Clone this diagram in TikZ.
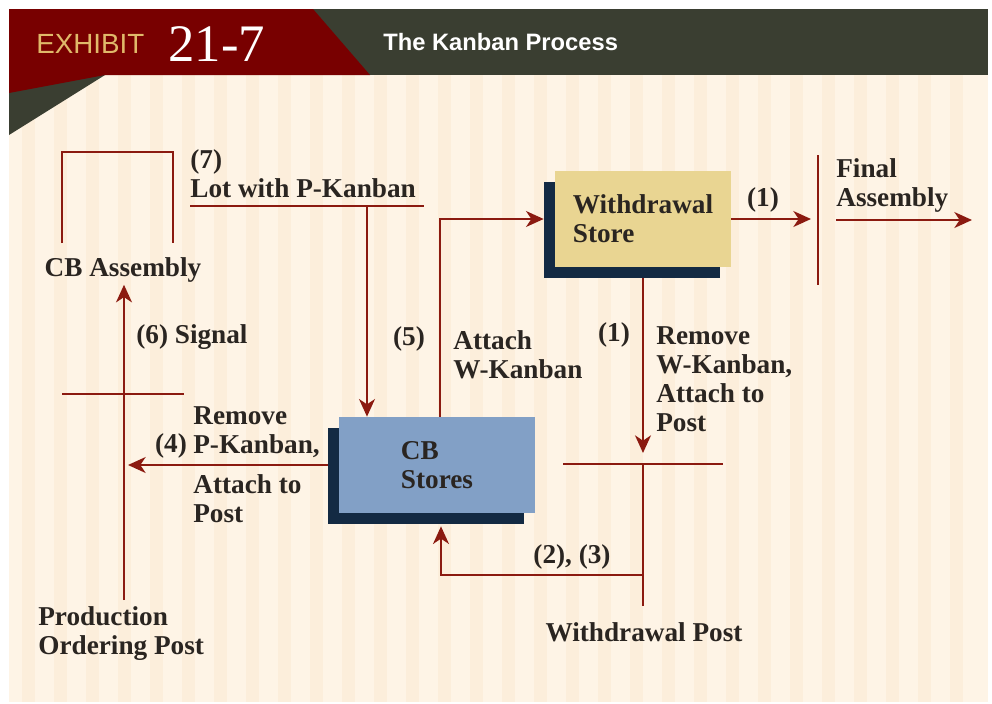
\documentclass[tikz,border=0pt]{standalone}
\usepackage{fontspec}
\setmainfont{Liberation Serif}
\newfontfamily\hdfont{Liberation Sans}
\usetikzlibrary{positioning, arrows.meta, shadows}
\definecolor{kred}{HTML}{8B1A10}
\definecolor{hred}{HTML}{780000}
\definecolor{hdark}{HTML}{3A3E31}
\definecolor{gold}{HTML}{E0B96A}
\definecolor{cream}{HTML}{FEF4E6}
\definecolor{stripe}{HTML}{FCEEDB}
\definecolor{ink}{HTML}{2A2521}
\definecolor{navy}{HTML}{132A43}
\definecolor{wsfill}{HTML}{E9D592}
\definecolor{cbfill}{HTML}{82A0C6}
\newcommand{\kfont}{\fontsize{15.5}{16.5}\selectfont\bfseries}

\begin{document}
\begin{tikzpicture}[x=0.02cm, y=-0.02cm,
  flow/.style={kred, line width=1.6pt},
  arr/.style={flow, -{Stealth[length=10pt,width=9pt,inset=3pt]}},
  lbl/.style={text=ink, font=\kfont, align=left, inner sep=0pt},
  store/.style={text=ink, font=\kfont, align=left, inner sep=0pt,
    minimum height=1.92cm,
    general shadow={fill=navy, shadow xshift=-0.22cm, shadow yshift=-0.22cm}}]
\useasboundingbox (0,0) rectangle (992,704);
\fill[white] (0,0) rectangle (992,704);
% background with stripes
\fill[cream] (9,9) rectangle (988,702);
\foreach \x in {22,54,...,980} \fill[stripe] (\x,75) rectangle ++(13,627);
% header band
\fill[hdark] (9,9) rectangle (988,75);
\fill[hred] (9,9) -- (313,9) -- (370,75) -- (9,75) -- cycle;
\fill[hdark] (9,75) -- (105,75) -- (9,135) -- cycle;
\fill[hred] (9,75) -- (105,75) -- (9,93) -- cycle;
\node[anchor=west, text=gold, inner sep=0pt] (exh) at (36,44) {\hdfont\fontsize{15.8}{16}\selectfont EXHIBIT};
\node[anchor=west, text=white, inner sep=0pt] (num) at (168,44) {\fontsize{30}{31}\selectfont 21-7};
\node[anchor=west, text=white, inner sep=0pt] (ttl) at (383,42) {\hdfont\bfseries\fontsize{13.5}{14}\selectfont The Kanban Process};

% stores
\node[store, fill=wsfill, minimum width=3.52cm] (ws) at (643,219) {Withdrawal\\Store};
\node[store, fill=cbfill, minimum width=3.92cm] (cbs) at (437,465) {CB\\Stores};

% CB assembly and its bracket
\node[lbl] (cba) at (123,270) {CB Assembly};
\coordinate (bl) at (62,243);
\coordinate (br) at (173,243);
\draw[flow] (bl) -- (62,152) -- (173,152) -- (br);

% (7) lot with P-Kanban
\node[lbl, anchor=west] (t7) at (190,174) {(7)\\Lot with P-Kanban};
\coordinate (lotL) at (190,206);
\coordinate (lotR) at (424,206);
\coordinate (lotJ) at (367,206);
\draw[flow] (lotL) -- (lotR);
\draw[arr] (lotJ) -- (lotJ |- cbs.north);
\node[lbl] (t5) at (409,339) {(5)};

% production ordering post
\coordinate (ppost) at (124,600);
\coordinate (ppL) at (62,394);
\coordinate (ppR) at (184,394);
\draw[flow] (ppL) -- (ppR);
\draw[arr] (ppost) -- ([yshift=-0.04cm]cba.south -| ppost);
\node[lbl, anchor=west] (t6) at (136,337) {(6) Signal};
\node[lbl, anchor=north west] (pop) at (38,606) {Production\\Ordering Post};

% (4) remove P-Kanban
\draw[arr, shorten >=0.08cm] ([xshift=-0.22cm]cbs.west) -- (cbs.west -| ppost);
\node[lbl] (t4) at (171,446) {(4)};
\node[lbl, anchor=west] (t4a) at (193,432) {Remove\\P-Kanban,};
\node[lbl, anchor=west] (t4b) at (193,499) {Attach to\\Post};

% attach W-Kanban
\draw[arr, shorten >=0.22cm] ([xshift=0.06cm]cbs.north) |- (ws.west);
\node[lbl, anchor=west] (t5a) at (453,355) {Attach\\W-Kanban};

% to final assembly
\coordinate (faT) at (818,155);
\coordinate (faB) at (818,285);
\draw[flow] (faT) -- (faB);
\draw[arr, shorten >=0.14cm] (ws.east) -- (ws.east -| faT);
\node[lbl] (t1a) at (763,200) {(1)};
\node[lbl, anchor=west] (fa) at (836,185) {Final\\Assembly};
\coordinate (faL) at (836,220);
\coordinate (faR) at (972,220);
\draw[arr] (faL) -- (faR);

% withdrawal post
\coordinate (wpost) at (643,464);
\coordinate (wpL) at (563,464);
\coordinate (wpR) at (723,464);
\coordinate (wpB) at (643,606);
\coordinate (wpJ) at (643,575);
\draw[flow] (wpL) -- (wpR);
\draw[flow] (wpost) -- (wpB);
\draw[arr, shorten >=0.22cm] ([yshift=-0.22cm]ws.south) -- (wpost);
\node[lbl] (t1b) at (614,335) {(1)};
\node[lbl, anchor=west] (t1c) at (656,379) {Remove\\W-Kanban,\\Attach to\\Post};
\draw[arr, shorten >=0.26cm] (wpJ) -| ([xshift=0.08cm]cbs.south);
\node[lbl] (t23) at (572,557) {(2), (3)};
\node[lbl] (wpt) at (644,632) {Withdrawal Post};
\end{tikzpicture}
\end{document}
